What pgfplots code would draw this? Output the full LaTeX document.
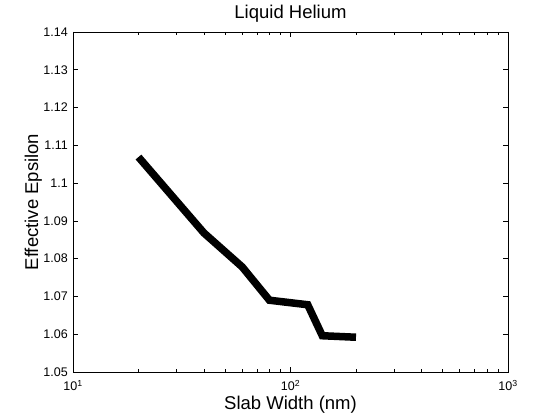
\documentclass[border=0pt]{standalone}
\usepackage{pgfplots}
\pgfplotsset{compat=1.18}
\usepackage{fontspec}
\setmainfont{Liberation Sans}
\begin{document}
\begin{tikzpicture}
\path[use as bounding box, fill=white] (-73pt,-48pt) rectangle (487pt,372pt);
\begin{axis}[
  at={(0pt,0pt)}, anchor=south west,
  scale only axis,
  width=435pt, height=340pt,
  xmode=log, xmin=10, xmax=1000,
  ymin=1.05, ymax=1.14,
  ytick={1.05,1.06,...,1.14},
  xtick={10,100,1000},
  xticklabels={10\textsuperscript{1},10\textsuperscript{2},10\textsuperscript{3}},
  /pgf/number format/assume math mode=true,
  yticklabel style={/pgf/number format/fixed, /pgf/number format/precision=2, anchor=east, inner sep=0pt, xshift=-5pt},
  tick label style={font=\fontsize{12.5}{14}\selectfont},
  xticklabel style={anchor=base, inner sep=0pt, yshift=-19pt},
  tick align=inside,
  major tick length=5pt,
  minor tick length=3pt,
  tick style={black, line width=0.6pt},
  axis line style={line width=0.6pt},
  title={Liquid Helium},
  title style={font=\fontsize{18.5}{21}\selectfont, at={(axis description cs:0.5,1.023)}, anchor=base},
  xlabel={Slab Width (nm)},
  xlabel style={font=\fontsize{18.5}{21}\selectfont, inner sep=0pt, at={(axis description cs:0.5,-0.11)}, anchor=base},
  ylabel={Effective Epsilon},
  ylabel style={font=\fontsize{18.5}{21}\selectfont, inner sep=0pt, at={(axis description cs:-0.080,0.5)}, anchor=base, rotate=0},
]
\addplot[black, line width=7.5pt, line join=miter] coordinates {
  (20,1.1069) (40,1.0868) (60,1.0778) (80,1.0690) (120,1.0678) (140,1.0596) (200,1.0592)
};
\end{axis}
\end{tikzpicture}
\end{document}
